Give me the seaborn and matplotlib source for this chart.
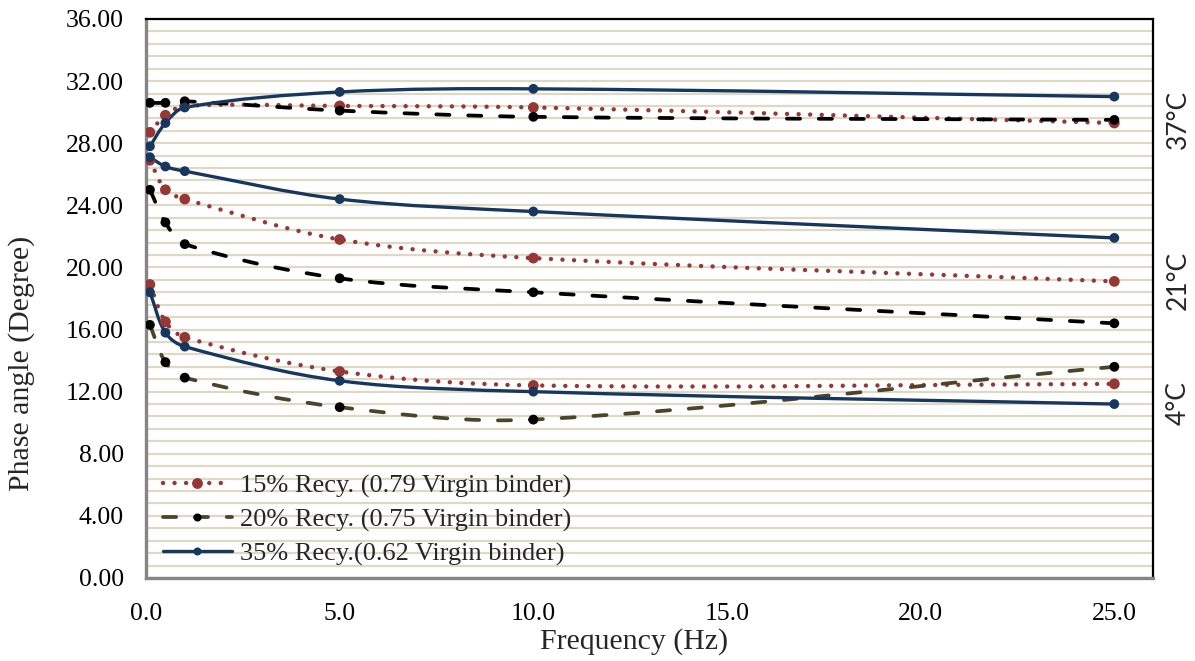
import numpy as np
import pandas as pd
import matplotlib
matplotlib.use("Agg")
import matplotlib.pyplot as plt
from matplotlib.path import Path
from matplotlib.patches import PathPatch
from matplotlib.lines import Line2D
from matplotlib.ticker import MultipleLocator, FormatStrFormatter
import seaborn as sns

# Loading frequencies (Hz)
freq = [0.1, 0.5, 1, 5, 10, 25]

# Phase angle (degree) per mix and test temperature
r15_37 = [28.7, 29.8, 30.4, 30.4, 30.3, 29.3]
r15_21 = [26.9, 25.0, 24.4, 21.8, 20.6, 19.1]
r15_4 = [18.9, 16.5, 15.5, 13.3, 12.4, 12.5]

r20_37 = [30.6, 30.6, 30.7, 30.1, 29.7, 29.5]
r20_21 = [25.0, 22.9, 21.5, 19.3, 18.4, 16.4]
r20_4 = [16.3, 13.9, 12.9, 11.0, 10.2, 13.6]

r35_37 = [27.8, 29.3, 30.3, 31.3, 31.5, 31.0]
r35_21 = [27.1, 26.5, 26.2, 24.4, 23.6, 21.9]
r35_4 = [18.4, 15.8, 14.9, 12.7, 12.0, 11.2]

mix_labels = ["15% Recy. (0.79 Virgin binder)",
              "20% Recy. (0.75 Virgin binder)",
              "35% Recy.(0.62 Virgin binder)"]
temp_labels = ["37°C", "21°C", "4°C"]

yticks = np.arange(0, 36.1, 4)
xticks = np.arange(0, 25.1, 5)

RED = "#953735"
BLACK = "#000000"
OLIVE = "#4A452A"
NAVY = "#17375E"
GRID = "#DDD9C3"
SPINE_GREY = "#868686"

sns.set_style("white")
plt.rcParams["font.family"] = ["Liberation Serif", "DejaVu Serif"]

series = {
    mix_labels[0]: [r15_37, r15_21, r15_4],
    mix_labels[1]: [r20_37, r20_21, r20_4],
    mix_labels[2]: [r35_37, r35_21, r35_4],
}

rows = []
for mix, per_temp in series.items():
    for temp, vals in zip(temp_labels, per_temp):
        for f, v in zip(freq, vals):
            rows.append({"freq": f, "angle": v, "mix": mix, "temp": temp})
df = pd.DataFrame(rows)

DOT = (0, (0.001, 2.6))
DASH = (0, (3.5, 5.0))

line_style = {
    mix_labels[0]: dict(color=RED, lw=3.2, ls=DOT),
    mix_labels[1]: dict(color=BLACK, lw=2.7, ls=DASH),
    mix_labels[2]: dict(color=NAVY, lw=2.4, ls="-"),
}

fig = plt.figure(figsize=(11.95, 6.61), dpi=100)
ax = fig.add_axes([0.1222, 0.1256, 0.8427, 0.8457])
ax.set_xlim(0, 26)
ax.set_ylim(0, 36)


def smooth_path(xs, ys):
    """Smoothed line through the points as cubic Bezier segments.

    Tangents follow the neighbouring points; control arms are a third of
    each segment's on-screen length so short segments never loop back.
    """
    pts = ax.transData.transform(np.column_stack([xs, ys]).astype(float))
    n = len(pts)

    def tangent(i):
        a = pts[max(i - 1, 0)]
        b = pts[min(i + 1, n - 1)]
        d = b - a
        return d / np.hypot(*d)

    verts = [pts[0]]
    codes = [Path.MOVETO]
    for i in range(n - 1):
        p1, p2 = pts[i], pts[i + 1]
        arm = np.hypot(*(p2 - p1)) / 3.0
        verts += [p1 + tangent(i) * arm, p2 - tangent(i + 1) * arm, p2]
        codes += [Path.CURVE4] * 3
    verts = ax.transData.inverted().transform(np.array(verts))
    return Path(verts, codes)


for mix in mix_labels:
    st = line_style[mix]
    for temp in temp_labels:
        sub = df[(df["mix"] == mix) & (df["temp"] == temp)]
        color = st["color"]
        if mix == mix_labels[1] and temp == "4°C":
            color = OLIVE
        patch = PathPatch(smooth_path(sub["freq"], sub["angle"]), fill=False,
                          edgecolor=color, lw=st["lw"], linestyle=st["ls"],
                          capstyle="round", joinstyle="round", zorder=2)
        ax.add_patch(patch)

size_map = {mix_labels[0]: 60, mix_labels[1]: 50, mix_labels[2]: 50}
sns.scatterplot(data=df, x="freq", y="angle", hue="mix", size="mix",
                sizes=size_map, palette={mix_labels[0]: RED, mix_labels[1]: BLACK,
                                         mix_labels[2]: NAVY},
                edgecolor="none", linewidth=0, legend=False, ax=ax, zorder=3)

ax.set_xlim(0, 26)
ax.set_ylim(0, 36)
ax.set_xticks(xticks)
ax.set_yticks(yticks)
ax.xaxis.set_major_formatter(FormatStrFormatter("%.1f"))
ax.yaxis.set_major_formatter(FormatStrFormatter("%.2f"))
ax.yaxis.set_minor_locator(MultipleLocator(0.8))
ax.set_axisbelow(True)
ax.grid(True, which="both", axis="y", color=GRID, lw=1.6)
ax.grid(False, axis="x")
ax.set_xlabel("")
ax.set_ylabel("")

ax.tick_params(axis="both", which="major", direction="out", length=5, width=1.5,
               color=SPINE_GREY, labelsize=18.5, labelcolor="black")
ax.tick_params(axis="y", which="major", pad=11)
ax.tick_params(axis="x", which="major", pad=13)
ax.tick_params(axis="y", which="minor", length=0)

for side in ("left", "bottom"):
    ax.spines[side].set_color(SPINE_GREY)
    ax.spines[side].set_linewidth(2.4)
for side in ("top", "right"):
    ax.spines[side].set_color("black")
    ax.spines[side].set_linewidth(1.6)
    ax.spines[side].set_visible(True)

fig.text(22 / 1195, 0.451, "Phase angle (Degree)", rotation=90, ha="center",
         va="center", fontsize=21.5)
fig.text(0.531, 0.030, "Frequency (Hz)", ha="center", va="center", fontsize=21.5)

for label, yf in zip(temp_labels, [0.820, 0.533, 0.313]):
    ax.text(1.025, yf, label, transform=ax.transAxes, rotation=90, ha="center",
            va="center", fontsize=19, family=["Lato", "DejaVu Sans"])

handles = [
    Line2D([], [], color=RED, lw=3.2, ls=DOT, dash_capstyle="round",
           marker="o", ms=6.8, mfc=RED, mec=RED),
    Line2D([], [], color=OLIVE, lw=2.7, ls=DASH, dash_capstyle="round",
           marker="o", ms=4.8, mfc=BLACK, mec=BLACK),
    Line2D([], [], color=NAVY, lw=2.4, ls="-", marker="o", ms=4.8,
           mfc=NAVY, mec=NAVY),
]
ax.legend(handles, mix_labels, loc="upper left", bbox_to_anchor=(0.017, 0.186),
          frameon=False, fontsize=19, handlelength=2.6, handletextpad=0.3,
          labelspacing=0.38, borderpad=0, borderaxespad=0)

fig.savefig("out.png", dpi=100)
